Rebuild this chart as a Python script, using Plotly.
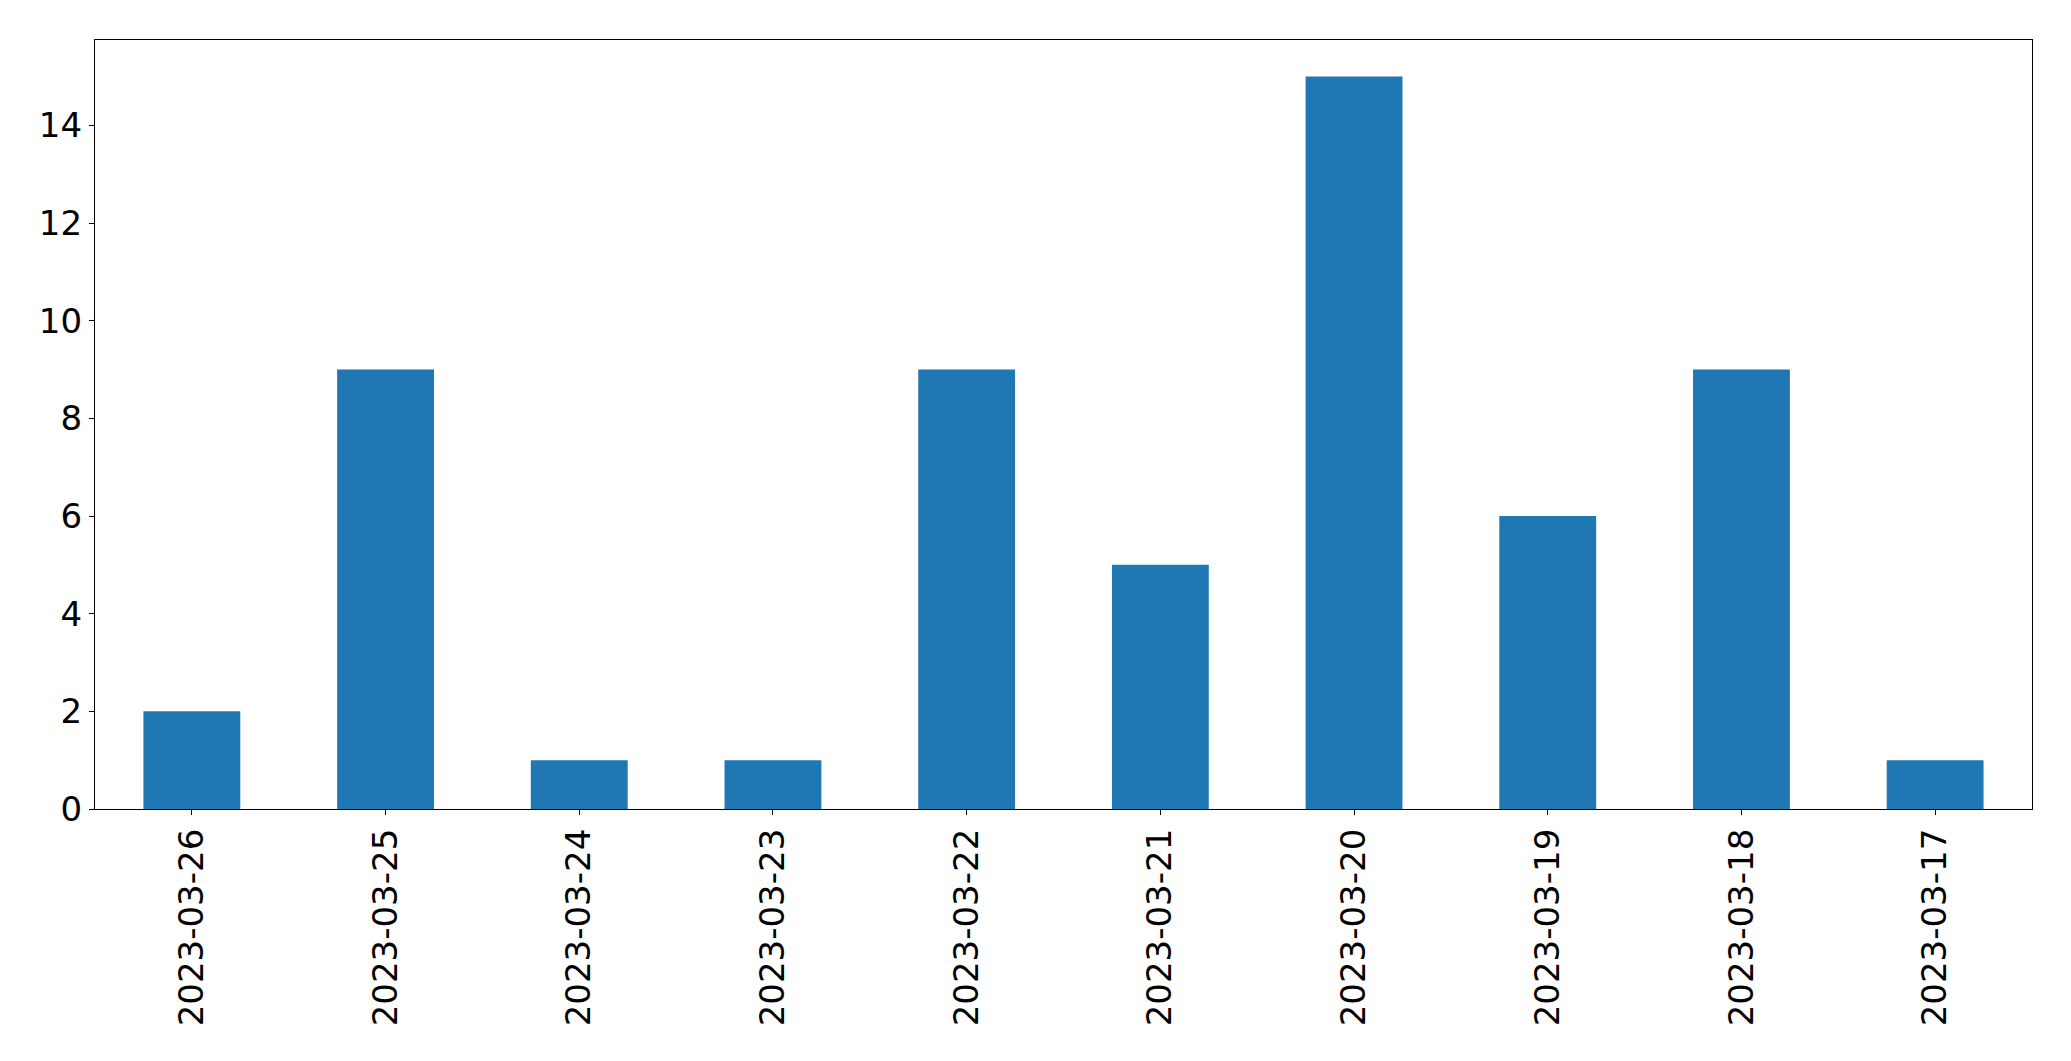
import plotly.graph_objects as go

# 일자별 건수
dates = ["2023-03-26", "2023-03-25", "2023-03-24", "2023-03-23", "2023-03-22",
         "2023-03-21", "2023-03-20", "2023-03-19", "2023-03-18", "2023-03-17"]
counts = [2, 9, 1, 1, 9, 5, 15, 6, 9, 1]
y_ticks = [0, 2, 4, 6, 8, 10, 12, 14]

FONT_FAMILY = "DejaVu Sans, sans-serif"
BAR_COLOR = "#1f77b4"

fig = go.Figure(
    go.Bar(x=dates, y=counts, width=0.5, marker=dict(color=BAR_COLOR, line=dict(width=0)))
)

# 페이지 body 여백(8px)만큼 보정
fig.update_layout(
    width=2055,
    height=1045,
    margin=dict(l=87, r=31, t=32, b=244),
    plot_bgcolor="white",
    paper_bgcolor="white",
    showlegend=False,
    font=dict(family=FONT_FAMILY, size=34, color="black"),
)

fig.update_xaxes(
    type="category",
    range=[-0.5, len(dates) - 0.5],
    tickangle=-90,
    ticks="outside",
    ticklen=5,
    tickwidth=1.3,
    tickcolor="black",
    ticklabelstandoff=0,
    showline=True,
    linecolor="black",
    linewidth=1.3,
    mirror=True,
    showgrid=False,
)

fig.update_yaxes(
    range=[0, 15.75],
    tickvals=y_ticks,
    ticks="outside",
    ticklen=5,
    tickwidth=1.3,
    tickcolor="black",
    showline=True,
    linecolor="black",
    linewidth=1.3,
    mirror=True,
    showgrid=False,
    zeroline=False,
)

fig.write_html("out.html")
